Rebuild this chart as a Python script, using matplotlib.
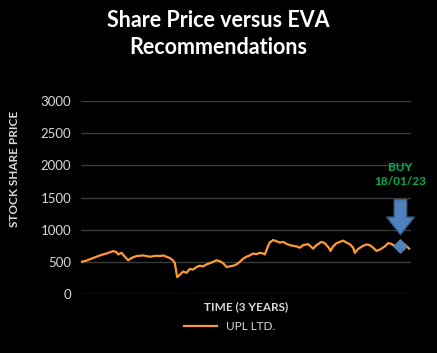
import matplotlib
matplotlib.use("Agg")
import matplotlib.pyplot as plt

# ── Data ────────────────────────────────────────────────────────────────────
days = [0, 15, 35, 55, 75, 95, 105, 110, 120, 130, 140, 150, 165, 185, 205,
        225, 235, 245, 255, 265, 275, 280, 287, 295, 305, 315, 325, 335, 345,
        355, 365, 375, 385, 395, 405, 415, 425, 435, 445, 455, 465, 475, 485,
        495, 505, 515, 525, 535, 545, 550, 555, 560, 565, 575, 585, 595, 605,
        615, 625, 635, 645, 655, 665, 680, 690, 695, 705, 720, 730, 735, 742,
        747, 755, 765, 775, 785, 795, 805, 815, 820, 830, 845, 855, 865, 875,
        885, 895, 910, 920, 930, 935, 945, 955, 970, 983]
price = [500, 520, 560, 600, 630, 668, 650, 615, 640, 580, 525, 560, 590, 600,
         580, 595, 590, 600, 580, 560, 520, 480, 263, 300, 350, 330, 390, 380,
         420, 440, 430, 460, 480, 500, 525, 510, 480, 420, 430, 440, 460, 500,
         550, 580, 600, 630, 620, 640, 630, 615, 680, 750, 800, 840, 820, 800,
         810, 780, 760, 750, 740, 720, 760, 775, 730, 705, 760, 810, 790, 760,
         720, 670, 740, 790, 810, 830, 800, 775, 720, 640, 700, 750, 770, 760,
         720, 670, 690, 740, 790, 780, 760, 740, 750, 770, 705]
series_name = "UPL LTD."
buy_day = 957
buy_price = 750
buy_label = "BUY\n18/01/23"
y_ticks = [0, 500, 1000, 1500, 2000, 2500, 3000]

FONT = "Lato"
LIGHT = "#d9d9d9"

fig = plt.figure(figsize=(4.37, 3.53), dpi=100, facecolor="black")
ax = fig.add_axes([0.185, 0.167, 0.755, 0.547], facecolor="black")

ax.plot(days, price, color="#ff9933", lw=1.6, label=series_name)
ax.scatter([buy_day], [buy_price], marker="D", s=45, color="#4f81bd", zorder=5)

# buy arrow + label
ax.annotate("", xy=(buy_day, 880), xytext=(buy_day, 1510),
            arrowprops=dict(arrowstyle="simple,head_width=1.1,head_length=0.7,tail_width=0.5",
                            fc="#4f81bd", ec="#385d8a", lw=1, mutation_scale=18))
ax.text(buy_day, 1860, buy_label, ha="center", va="center", color="#00b050",
        fontsize=8.5, fontweight="bold", family=FONT, linespacing=1.35)

ax.set_xlim(-2, 988)
ax.set_ylim(0, 3000)
ax.set_yticks(y_ticks)
ax.set_xticks([])
ax.grid(axis="y", color="#3a3a3a", lw=1)
ax.set_axisbelow(True)
for s in ax.spines.values():
    s.set_visible(False)
ax.tick_params(axis="y", length=0, pad=7, colors=LIGHT, labelsize=9.5)
for lab in ax.get_yticklabels():
    lab.set_family(FONT)

ax.set_ylabel("STOCK SHARE PRICE", color=LIGHT, fontsize=8.5, fontweight="bold",
              family=FONT)
ax.yaxis.set_label_coords(-0.185, 0.65)
ax.set_xlabel("TIME (3 YEARS)", color=LIGHT, fontsize=8.5, fontweight="bold",
              family=FONT, labelpad=5)

fig.text(0.5, 0.943, "Share Price versus EVA", ha="center", va="center",
         color="white", fontsize=15.5, fontweight="bold", family=FONT)
fig.text(0.5, 0.866, "Recommendations", ha="center", va="center",
         color="white", fontsize=15.5, fontweight="bold", family=FONT)

leg = fig.legend(loc="center", bbox_to_anchor=(0.525, 0.075), frameon=False,
                 prop={"family": FONT, "size": 8.5}, handlelength=2.8)
for t in leg.get_texts():
    t.set_color(LIGHT)

fig.savefig("out.png", dpi=100, facecolor="black")
